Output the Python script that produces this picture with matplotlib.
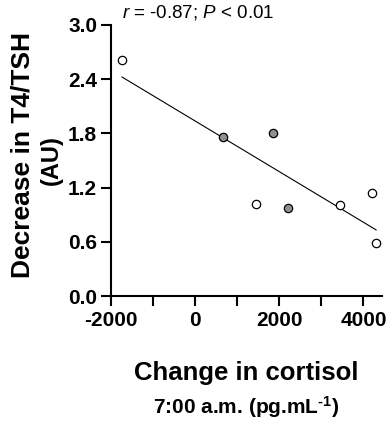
import numpy as np
import matplotlib
matplotlib.use("Agg")
import matplotlib.pyplot as plt

plt.rcParams["font.family"] = ["Liberation Sans", "DejaVu Sans"]
plt.rcParams["axes.unicode_minus"] = False
plt.rcParams["mathtext.fontset"] = "custom"
plt.rcParams["mathtext.rm"] = "Liberation Sans"
plt.rcParams["mathtext.it"] = "Liberation Sans:italic"
plt.rcParams["mathtext.bf"] = "Liberation Sans:bold"

# open circles
open_x = [-1740, 1450, 3440, 4200, 4300]
open_y = [2.61, 1.02, 1.01, 1.14, 0.59]
# grey circles
grey_x = [660, 1845, 2215]
grey_y = [1.76, 1.81, 0.97]

x_ticks = [-2000, 0, 2000, 4000]
y_ticks = [0.0, 0.6, 1.2, 1.8, 2.4, 3.0]

all_x = np.array(open_x + grey_x, dtype=float)
all_y = np.array(open_y + grey_y, dtype=float)
slope, intercept = np.polyfit(all_x, all_y, 1)

fig = plt.figure(figsize=(3.87, 4.23), dpi=100)
ax = fig.add_axes([0.287, 0.300, 0.699, 0.641])

xl = np.array([all_x.min(), all_x.max()])
ax.plot(xl, slope * xl + intercept, color="black", linewidth=0.8, zorder=2)
ax.plot(open_x, open_y, "o", markerfacecolor="white", markeredgecolor="black",
        markersize=6, markeredgewidth=0.9, zorder=3, clip_on=False)
ax.plot(grey_x, grey_y, "o", markerfacecolor="#8f8f8f", markeredgecolor="black",
        markersize=6, markeredgewidth=0.9, zorder=3, clip_on=False)

ax.set_xlim(-2000, 4430)
ax.set_ylim(0, 3.0)
ax.set_xticks(x_ticks)
ax.set_xticks([-1000, 1000, 3000], minor=True)
ax.set_yticks(y_ticks)
ax.set_yticklabels([f"{v:.1f}" for v in y_ticks])

for s in ["top", "right"]:
    ax.spines[s].set_visible(False)
for s in ["left", "bottom"]:
    ax.spines[s].set_linewidth(1.5)

ax.tick_params(axis="both", which="both", width=1.5, length=7.5, labelsize=15)
ax.tick_params(axis="x", which="both", pad=3.5)
ax.tick_params(axis="y", which="both", pad=2.5)
for lab in ax.get_xticklabels() + ax.get_yticklabels():
    lab.set_fontweight("bold")

# y label, two lines
fig.text(23 / 387, 1 - 155 / 423, "Decrease in T4/TSH", rotation=90,
         ha="center", va="center", fontsize=19, fontweight="bold")
fig.text(51 / 387, 1 - 160 / 423, "(AU)", rotation=90,
         ha="center", va="center", fontsize=17, fontweight="bold")

# x label, two lines
fig.text(246.5 / 387, 1 - 380 / 423, "Change in cortisol",
         ha="center", va="baseline", fontsize=18.5, fontweight="bold")
fig.text(246 / 387, 1 - 414 / 423, "7:00 a.m. (pg.mL$^{\\mathbf{\u20101}}$)",
         ha="center", va="baseline", fontsize=15, fontweight="bold")

ax.text(0.04, 1.01, r"$\it{r}$ = -0.87; $\it{P}$ < 0.01", transform=ax.transAxes,
        fontsize=13.5, ha="left", va="bottom")

fig.savefig("out.png", dpi=100)
